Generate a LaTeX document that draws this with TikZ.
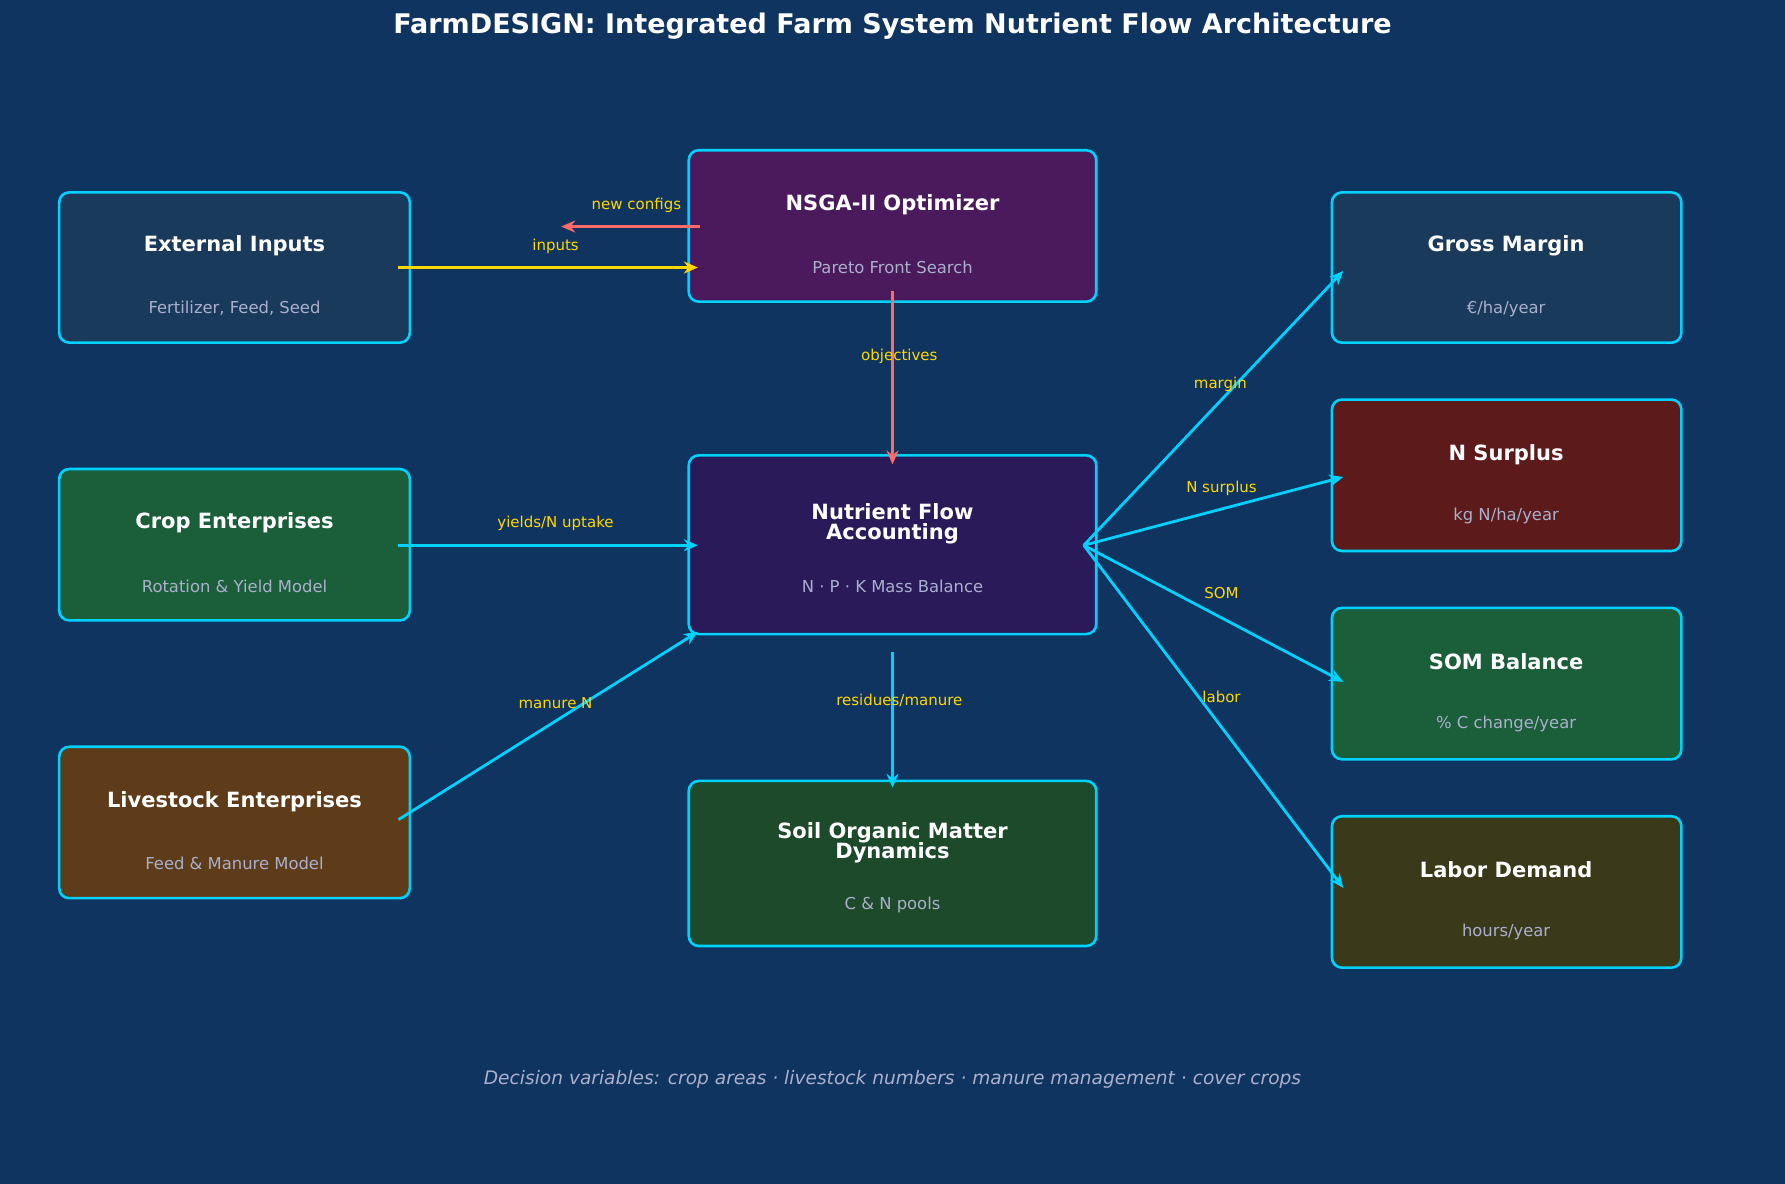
\documentclass[tikz,border=0pt]{standalone}
\usepackage{fontspec}
\setmainfont{DejaVu Sans}
\usetikzlibrary{arrows.meta}
\definecolor{bg}{RGB}{16,52,96}
\definecolor{cy}{RGB}{0,210,255}
\definecolor{yl}{RGB}{255,215,0}
\definecolor{rd}{RGB}{255,107,107}
\definecolor{sub}{RGB}{170,176,204}
\definecolor{cBlue}{RGB}{26,58,92}
\definecolor{cGreen}{RGB}{27,94,58}
\definecolor{cBrown}{RGB}{94,60,26}
\definecolor{cPurple}{RGB}{74,26,92}
\definecolor{cIndigo}{RGB}{42,26,90}
\definecolor{cDGreen}{RGB}{28,74,42}
\definecolor{cRed}{RGB}{92,26,26}
\definecolor{cOlive}{RGB}{58,58,26}
\tikzset{
 box/.style={draw=cy,line width=1.3pt,rounded corners=5pt},
 ttl/.style={text=white,font=\fontsize{10.5}{12}\selectfont\bfseries,align=center},
 stl/.style={text=sub,font=\fontsize{8.2}{10}\selectfont},
 lbl/.style={text=yl,font=\fontsize{7.5}{9}\selectfont},
 arr/.style={-{Stealth[length=7pt,width=6pt]},line width=1.4pt},
}
\begin{document}
\begin{tikzpicture}[x=0.02cm,y=-0.02cm]
\fill[bg] (0,0) rectangle (1568,1040);
\node[text=white,font=\fontsize{13.5}{15}\selectfont\bfseries] (title) at (784,23) {FarmDESIGN: Integrated Farm System Nutrient Flow Architecture};
% boxes
\newcommand{\mybox}[5]{\filldraw[box,fill=#5] (#1,#2) rectangle (#3,#4);}
\mybox{52}{169}{360}{301}{cBlue}
\node[ttl] (ext) at (206,216) {External Inputs};
\node[stl] (exts) at (206,271) {Fertilizer, Feed, Seed};
\mybox{52}{412}{360}{545}{cGreen}
\node[ttl] (crop) at (206,459) {Crop Enterprises};
\node[stl] (crops) at (206,515) {Rotation \& Yield Model};
\mybox{52}{656}{360}{789}{cBrown}
\node[ttl] (live) at (206,704) {Livestock Enterprises};
\node[stl] (lives) at (206,758) {Feed \& Manure Model};
\mybox{605}{132}{963}{265}{cPurple}
\node[ttl] (nsga) at (784,180) {NSGA-II Optimizer};
\node[stl] (nsgas) at (784,235) {Pareto Front Search};
\mybox{605}{400}{963}{557}{cIndigo}
\node[ttl] (nfa) at (784,460) {Nutrient Flow\\[-2pt]Accounting};
\node[stl] (nfas) at (784,515) {N · P · K Mass Balance};
\mybox{605}{686}{963}{831}{cDGreen}
\node[ttl] (som) at (784,740) {Soil Organic Matter\\[-2pt]Dynamics};
\node[stl] (soms) at (784,795) {C \& N pools};
\mybox{1170}{169}{1477}{301}{cBlue}
\node[ttl] (gm) at (1323,216) {Gross Margin};
\node[stl] (gms) at (1323,271) {€/ha/year};
\mybox{1170}{351}{1477}{484}{cRed}
\node[ttl] (ns) at (1323,399) {N Surplus};
\node[stl] (nss) at (1323,453) {kg N/ha/year};
\mybox{1170}{534}{1477}{667}{cGreen}
\node[ttl] (sb) at (1323,581) {SOM Balance};
\node[stl] (sbs) at (1323,636) {\% C change/year};
\mybox{1170}{717}{1477}{850}{cOlive}
\node[ttl] (ld) at (1323,764) {Labor Demand};
\node[stl] (lds) at (1323,819) {hours/year};
% connector endpoints
\coordinate (a1) at (350,235); \coordinate (a2) at (613,235);
\coordinate (b1) at (615,199); \coordinate (b2) at (493,199);
\coordinate (c1) at (784,256); \coordinate (c2) at (784,408);
\coordinate (d1) at (350,479); \coordinate (d2) at (613,479);
\coordinate (e1) at (350,720); \coordinate (e2) at (613,555);
\coordinate (f1) at (784,573); \coordinate (f2) at (784,692);
\coordinate (hub) at (952,479);
\coordinate (g1) at (1180,238); \coordinate (g2) at (1180,419);
\coordinate (g3) at (1180,599); \coordinate (g4) at (1180,780);
\draw[arr,yl] (a1) -- (a2);
\draw[arr,rd] (b1) -- (b2);
\draw[arr,rd] (c1) -- (c2);
\draw[arr,cy] (d1) -- (d2);
\draw[arr,cy] (e1) -- (e2);
\draw[arr,cy] (f1) -- (f2);
\draw[arr,cy] (hub) -- (g1);
\draw[arr,cy] (hub) -- (g2);
\draw[arr,cy] (hub) -- (g3);
\draw[arr,cy] (hub) -- (g4);
\node[lbl] (l1) at (488,216) {inputs};
\node[lbl] (l2) at (559,180) {new configs};
\node[lbl] (l3) at (790,313) {objectives};
\node[lbl] (l4) at (488,460) {yields/N uptake};
\node[lbl] (l5) at (488,618) {manure N};
\node[lbl] (l6) at (790,615) {residues/manure};
\node[lbl] (l7) at (1072,338) {margin};
\node[lbl] (l8) at (1073,429) {N surplus};
\node[lbl] (l9) at (1073,521) {SOM};
\node[lbl] (l10) at (1073,612) {labor};
\node[text=sub,font=\fontsize{9.3}{11}\selectfont\itshape] (foot) at (784,948) {Decision variables: crop areas · livestock numbers · manure management · cover crops};
\end{tikzpicture}
\end{document}
